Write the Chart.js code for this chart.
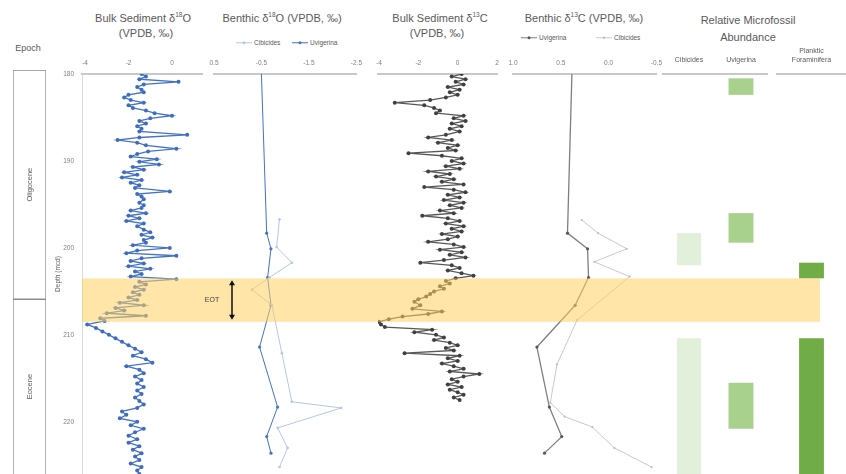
<!DOCTYPE html>
<html>
<head>
<meta charset="utf-8">
<script src="https://cdn.jsdelivr.net/npm/chart.js@4.4.0/dist/chart.umd.min.js"></script>
<style>
  body { margin: 0; background: #fff; font-family: 'Liberation Sans', Arial, sans-serif; }
  #wrap { position: relative; width: 846px; height: 474px; overflow: hidden; background: #fff; }
  #wrap canvas { position: absolute; top: 0; }
  .ttl { position: absolute; color: #595959; font-size: 11px; line-height: 1; white-space: nowrap; transform: translate(-50%, -50%); text-align: center; }
  .leg { position: absolute; color: #595959; font-size: 6.5px; line-height: 1; white-space: nowrap; transform: translateY(-50%); display: flex; align-items: center; gap: 2px; }
</style>
</head>
<body>
<div id="wrap">
  <div class="ttl" style="left:28px;top:48px;font-size:9px">Epoch</div>
  <div class="ttl" style="left:143px;top:18px">Bulk Sediment δ<sup style="font-size:6.5px">18</sup>O</div>
  <div class="ttl" style="left:146px;top:33px">(VPDB, ‰)</div>
  <div class="ttl" style="left:282px;top:18px">Benthic δ<sup style="font-size:6.5px">18</sup>O (VPDB, ‰)</div>
  <div class="ttl" style="left:440px;top:18px">Bulk Sediment δ<sup style="font-size:6.5px">13</sup>C</div>
  <div class="ttl" style="left:437px;top:33px">(VPDB, ‰)</div>
  <div class="ttl" style="left:584px;top:18px">Benthic δ<sup style="font-size:6.5px">13</sup>C (VPDB, ‰)</div>
  <div class="ttl" style="left:748px;top:20px">Relative Microfossil</div>
  <div class="ttl" style="left:748px;top:37px">Abundance</div>

  <div class="leg" style="left:236px;top:43px"><svg width="16" height="6"><line x1="0" y1="3" x2="16" y2="3" stroke="#b4c7e7" stroke-width="1"/><circle cx="8" cy="3" r="1.5" fill="#b4c7e7"/></svg><span>Cibicides</span></div>
  <div class="leg" style="left:292px;top:43px"><svg width="16" height="6"><line x1="0" y1="3" x2="16" y2="3" stroke="#4472c4" stroke-width="1"/><circle cx="8" cy="3" r="1.5" fill="#4472c4"/></svg><span>Uvigerina</span></div>
  <div class="leg" style="left:521px;top:38px"><svg width="16" height="6"><line x1="0" y1="3" x2="16" y2="3" stroke="#7f7f7f" stroke-width="1"/><circle cx="8" cy="3" r="1.5" fill="#595959"/></svg><span>Uvigerina</span></div>
  <div class="leg" style="left:596px;top:38px"><svg width="16" height="6"><line x1="0" y1="3" x2="16" y2="3" stroke="#c9c9c9" stroke-width="1"/><circle cx="8" cy="3" r="1.2" fill="#bfbfbf"/></svg><span>Cibicides</span></div>
</div>

<script>
// depth axis (mcd), top of plot = 180
const depthTicks = [180, 190, 200, 210, 220];
const eotTop = 203.5, eotBottom = 208.5;

// epoch boxes
const epochNames = ['Oligocene', 'Eocene'];
const epochRanges = [[179.54, 205.9], [205.9, 232]];

// bulk sediment d18O
const bulkO18Depth = [
  180.0,180.3,180.6,180.9,181.2,181.5,181.8,182.1,182.4,182.7,
  183.0,183.3,183.6,183.9,184.2,184.5,184.8,185.1,185.4,185.7,
  186.0,186.3,186.6,187.0,187.3,187.6,187.9,188.2,188.6,188.9,
  189.2,189.5,189.8,190.1,190.4,190.7,191.0,191.3,191.6,191.9,
  192.2,192.5,192.8,193.1,193.5,193.8,194.1,194.4,194.8,195.1,
  195.4,195.7,196.0,196.3,196.6,196.9,197.2,197.5,197.9,198.2,
  198.5,198.8,199.1,199.4,199.7,200.0,200.3,200.6,200.9,201.2,
  201.5,201.8,202.1,202.4,202.7,203.0,203.3,203.6,203.9,204.2,
  204.5,204.8,205.1,205.4,205.7,206.0,206.3,206.6,206.9,207.2,
  207.5,207.8,208.1,208.4,208.8,209.2,209.6,210.0,210.4,210.8,
  211.2,211.6,212.0,212.4,212.8,213.2,213.6,214.0,214.4,214.8,
  215.2,215.6,216.0,216.4,216.8,217.2,217.6,218.0,218.4,218.8,
  219.2,219.6,220.0,220.4,220.8,221.2,221.6,222.0,222.4,222.8,
  223.2,223.6,224.0,224.4,224.8,225.2,225.6,226.0
];
const bulkO18 = [
  -1.4,-1.2,-1.5,0.3,-1.3,-1.6,-1.4,-1.3,-2.0,-2.2,
  -1.9,-1.3,-2.0,-1.8,-1.2,-0.8,0.0,-1.0,-1.5,-1.2,
  -1.6,-1.4,-1.5,0.7,-1.5,-2.5,-1.6,-1.2,0.2,-1.1,
  -1.6,-1.9,-0.7,-1.5,-0.6,-1.8,-1.3,-2.2,-1.6,-2.3,
  -1.4,-1.9,-1.5,-1.7,-0.1,-1.6,-1.4,-1.3,-1.5,-1.3,
  -1.4,-1.9,-1.2,-2.0,-1.5,-2.1,-1.3,-1.6,-1.3,-1.0,
  -1.4,-0.9,-1.3,-1.2,-1.8,-0.1,-1.6,-2.1,0.2,-1.4,
  -1.9,-1.3,-2.0,-1.0,-1.7,-1.4,-1.9,0.2,-1.5,-1.2,
  -1.7,-1.3,-1.8,-1.5,-2.0,-1.6,-2.4,-1.3,-2.6,-2.2,
  -3.0,-1.2,-3.3,-3.1,-3.9,-3.5,-3.2,-2.9,-2.6,-2.3,
  -2.0,-1.7,-1.4,-1.8,-1.2,-0.9,-2.1,-1.5,-1.3,-1.7,
  -1.4,-1.6,-1.3,-1.6,-1.4,-1.7,-1.5,-1.3,-1.6,-2.3,
  -2.1,-2.4,-1.6,-1.9,-1.3,-1.7,-2.0,-1.6,-2.0,-1.5,
  -1.8,-1.4,-1.7,-1.5,-1.9,-1.4,-1.6,-1.5
];

// bulk sediment d13C
const bulkC13Depth = [
  180.0,180.3,180.6,180.9,181.2,181.5,181.8,182.1,182.4,182.7,
  183.0,183.3,183.6,183.9,184.2,184.5,184.8,185.1,185.4,185.7,
  186.0,186.3,186.6,187.0,187.3,187.6,187.9,188.2,188.5,188.8,
  189.1,189.4,189.7,190.0,190.3,190.6,190.9,191.2,191.5,191.8,
  192.1,192.4,192.7,193.0,193.3,193.6,193.9,194.2,194.5,194.8,
  195.1,195.4,195.7,196.0,196.3,196.6,196.9,197.2,197.5,197.8,
  198.1,198.4,198.7,199.0,199.3,199.6,199.9,200.2,200.5,200.8,
  201.1,201.4,201.7,202.0,202.3,202.6,202.9,203.2,203.5,203.8,
  204.1,204.4,204.7,205.0,205.3,205.6,205.9,206.2,206.6,207.0,
  207.3,207.6,207.9,208.2,208.5,208.8,209.1,209.4,209.7,210.0,
  210.3,210.6,210.9,211.2,211.5,211.8,212.1,212.4,212.7,213.0,
  213.3,213.6,213.9,214.2,214.5,214.8,215.1,215.4,215.7,216.0,
  216.3,216.6,216.9,217.2,217.5
];
const bulkC13 = [
  0.2,-0.3,0.4,-0.1,0.3,-0.5,0.1,-0.4,0.0,-0.6,
  -1.4,-3.2,-1.7,-1.2,-0.9,-1.1,0.3,-0.2,0.4,-0.3,
  0.2,-0.4,0.1,-0.6,-1.5,-0.3,-1.0,0.0,-0.5,-0.1,
  -2.5,-0.8,0.2,-0.3,0.3,-0.6,0.1,-1.5,-0.4,-1.1,
  -0.2,-0.8,0.3,-1.7,-0.2,0.4,-0.5,0.1,-0.7,0.3,
  -0.4,0.2,-0.9,-0.2,-1.8,-0.5,0.1,-0.6,0.3,-0.3,
  0.2,-0.8,0.0,-0.5,-1.5,-0.2,0.3,-0.9,0.2,-0.4,
  0.4,-0.7,-1.9,-0.3,0.1,-0.5,0.2,0.8,-0.1,-0.6,
  -0.4,-0.9,-0.7,-1.2,-1.4,-1.6,-2.0,-2.2,-1.9,-2.3,
  -0.8,-1.5,-2.8,-3.5,-4.0,-3.9,-3.7,-1.3,-2.2,-1.1,
  -0.7,-1.2,-0.4,0.0,-0.6,-0.2,-2.7,0.1,-0.5,0.0,
  -0.8,-0.2,0.3,-0.4,1.1,0.3,-0.3,0.0,-0.5,0.2,
  -0.4,0.0,0.3,-0.2,0.1
];

// benthic foraminifera
const uviDepth = [178.5, 198.3, 200.1, 203.4, 206.6, 211.4, 218.3, 221.7, 223.6];
const uviO18 = [-0.49, -0.61, -0.70, -0.63, -0.70, -0.46, -0.84, -0.61, -0.70];
const uviC13 = [0.38, 0.43, 0.22, 0.21, 0.35, 0.75, 0.62, 0.49, 0.67];
const cibO18Depth = [196.7, 199.9, 201.7, 203.4, 204.8, 206.6, 212.1, 217.7, 218.4, 220.7, 223.0, 225.2];
const cibO18 = [-0.88, -0.82, -1.14, -0.67, -0.30, -0.72, -0.93, -1.14, -2.18, -0.84, -1.05, -0.88];
const cibC13Depth = [196.8, 198.3, 200.1, 201.6, 203.3, 208.3, 213.4, 217.8, 219.4, 220.6, 223.0, 225.2];
const cibC13 = [0.28, 0.11, -0.19, 0.15, -0.22, 0.33, 0.54, 0.61, 0.46, 0.17, -0.06, -0.45];

// relative microfossil abundance (depth intervals where present)
const abundanceLabels = ['Cibicides', 'Uvigerina'];
const cibicidesRanges = [[198.3, 202.0], [210.4, 232]];
const uvigerinaRanges = [[180.5, 182.4], [196.0, 199.4], [215.5, 220.8]];
const plankticLabel = [['Planktic', 'Foraminifera']];
const plankticRanges = [[201.7, 203.5], [210.4, 232]];

Chart.defaults.font.family = "'Liberation Sans', Arial, sans-serif";
Chart.defaults.animation = false;
Chart.defaults.layout.autoPadding = false;

const AREA_TOP = 74;
const AXIS_H = 20;
const wrap = document.getElementById('wrap');

function addCanvas(left, width) {
    const c = document.createElement('canvas');
    c.width = width;
    c.height = 474;
    c.style.left = left + 'px';
    wrap.appendChild(c);
    return c;
}

// yellow EOT band, each chart fills its own slice of the page
const eotBand = {
    id: 'eotBand',
    afterDatasetsDraw(chart, args, opts) {
        const y = chart.scales.y;
        const y0 = y.getPixelForValue(eotTop);
        const y1 = y.getPixelForValue(eotBottom);
        const x0 = opts.from - opts.left;
        const x1 = opts.to - opts.left;
        const ctx = chart.ctx;
        ctx.save();
        ctx.fillStyle = 'rgba(255, 208, 96, 0.55)';
        ctx.fillRect(x0, y0, x1 - x0, y1 - y0);
        ctx.restore();
    }
};

// EOT arrow + label
const eotMarker = {
    id: 'eotMarker',
    afterDraw(chart, args, opts) {
        const ctx = chart.ctx;
        const y = chart.scales.y;
        const y0 = y.getPixelForValue(eotTop) + 2;
        const y1 = y.getPixelForValue(eotBottom) - 2;
        const x = opts.x - opts.left;
        ctx.save();
        ctx.strokeStyle = '#111';
        ctx.fillStyle = '#111';
        ctx.lineWidth = 1.5;
        ctx.beginPath();
        ctx.moveTo(x, y0 + 3);
        ctx.lineTo(x, y1 - 3);
        ctx.stroke();
        ctx.beginPath();
        ctx.moveTo(x, y0); ctx.lineTo(x - 3, y0 + 5); ctx.lineTo(x + 3, y0 + 5); ctx.closePath();
        ctx.moveTo(x, y1); ctx.lineTo(x - 3, y1 - 5); ctx.lineTo(x + 3, y1 - 5); ctx.closePath();
        ctx.fill();
        ctx.fillStyle = '#404040';
        ctx.font = "7px 'Liberation Sans', Arial, sans-serif";
        ctx.textAlign = 'center';
        ctx.textBaseline = 'middle';
        ctx.fillText('EOT', opts.textX - opts.left, (y0 + y1) / 2);
        ctx.restore();
    }
};

// rotated epoch names inside the boxes
const epochText = {
    id: 'epochText',
    afterDatasetsDraw(chart) {
        const ctx = chart.ctx;
        const area = chart.chartArea;
        ctx.save();
        ctx.fillStyle = '#595959';
        ctx.font = "7.5px 'Liberation Sans', Arial, sans-serif";
        ctx.textAlign = 'center';
        ctx.textBaseline = 'middle';
        chart.data.datasets.forEach((ds, i) => {
            const bar = chart.getDatasetMeta(i).data[0];
            const top = Math.max(Math.min(bar.y, bar.base), area.top);
            const bottom = Math.min(Math.max(bar.y, bar.base), area.bottom);
            ctx.save();
            ctx.translate(bar.x, (top + bottom) / 2);
            ctx.rotate(-Math.PI / 2);
            ctx.fillText(ds.label, 0, 0);
            ctx.restore();
        });
        ctx.restore();
    }
};

function fixTicks(vals) {
    return function(scale) {
        scale.ticks = vals.map(v => ({ value: v }));
    };
}

function topAxis(min, max, reverse, tickVals, digits) {
    return {
        type: 'linear',
        position: 'top',
        min: min,
        max: max,
        reverse: reverse,
        afterBuildTicks: fixTicks(tickVals),
        afterFit: s => { s.height = AXIS_H; },
        grid: { display: false, drawTicks: false },
        border: { display: true, color: '#c8c8c8', width: 2 },
        ticks: {
            color: '#808080',
            font: { size: 6.5 },
            padding: 7,
            maxRotation: 0,
            autoSkip: false,
            callback: v => Number(v).toFixed(digits)
        }
    };
}

function depthAxis(show) {
    const axis = {
        type: 'linear',
        position: 'left',
        reverse: true,
        min: 180,
        max: 226,
        display: show
    };
    if (show) {
        Object.assign(axis, {
            afterBuildTicks: fixTicks(depthTicks),
            // fixed width, and no extra room for the end labels so every panel shares the same depth scale
            afterFit: s => { s.width = 32; s.paddingTop = 0; s.paddingBottom = 0; },
            grid: { display: false, drawTicks: false },
            border: { display: true, color: '#d9d9d9', width: 1 },
            title: { display: true, text: 'Depth (mcd)', color: '#595959', font: { size: 6.5 }, padding: { top: 4, bottom: 0 } },
            ticks: { color: '#808080', font: { size: 6.5 }, padding: 8 }
        });
    }
    return axis;
}

function lineSet(label, depths, vals, color, width, radius, pointColor) {
    return {
        label: label,
        data: depths.map((d, i) => ({ x: vals[i], y: d })),
        showLine: true,
        borderColor: color,
        backgroundColor: pointColor,
        pointBackgroundColor: pointColor,
        pointBorderColor: pointColor,
        pointBorderWidth: 0,
        borderWidth: width,
        pointRadius: radius,
        tension: 0
    };
}

function rangeSets(label, ranges, color, idx, nCats, barPct) {
    return ranges.map(r => {
        const data = new Array(nCats).fill(null);
        data[idx] = r;
        return {
            label: label,
            data: data,
            backgroundColor: color,
            borderWidth: 0,
            grouped: false,
            barPercentage: barPct,
            categoryPercentage: 1
        };
    });
}

// panel = chart area in page px, band = slice of the EOT band this chart paints
function makeProfile(p) {
    const padL = p.depthAxis ? 0 : 12;
    const yW = p.depthAxis ? 32 : 0;
    const left = p.areaLeft - padL - yW;
    const width = p.areaRight - p.areaLeft + padL + yW + 12;
    const canvas = addCanvas(left, width);
    const plugins = [eotBand];
    if (p.marker) plugins.push(eotMarker);
    return new Chart(canvas, {
        type: 'scatter',
        data: { datasets: p.datasets },
        options: {
            responsive: false,
            layout: { padding: { top: AREA_TOP - AXIS_H, bottom: 0, left: padL, right: 12 } },
            scales: {
                x: topAxis(p.min, p.max, p.reverse, p.ticks, p.digits),
                y: depthAxis(!!p.depthAxis)
            },
            plugins: {
                legend: { display: false },
                tooltip: { enabled: false },
                eotBand: { from: p.band[0], to: p.band[1], left: left },
                eotMarker: p.marker ? Object.assign({ left: left }, p.marker) : {}
            }
        },
        plugins: plugins
    });
}

function makeBars(p) {
    const left = p.areaLeft - 12;
    const width = p.areaRight - p.areaLeft + 24;
    const axisH = p.axisH || AXIS_H;
    const canvas = addCanvas(left, width);
    return new Chart(canvas, {
        type: 'bar',
        data: { labels: p.labels, datasets: p.datasets },
        options: {
            responsive: false,
            layout: { padding: { top: AREA_TOP - axisH, bottom: 0, left: 12, right: 12 } },
            scales: {
                x: {
                    type: 'category',
                    position: 'top',
                    afterFit: s => { s.height = axisH; },
                    grid: { display: false, drawTicks: false },
                    border: { display: true, color: '#c8c8c8', width: 2 },
                    ticks: { color: '#595959', font: { size: 7 }, padding: 10, maxRotation: 0, autoSkip: false }
                },
                y: { type: 'linear', reverse: true, min: 180, max: 226, display: false }
            },
            plugins: {
                legend: { display: false },
                tooltip: { enabled: false },
                eotBand: { from: p.band[0], to: p.band[1], left: left }
            }
        },
        plugins: [eotBand]
    });
}

// epoch column
(function() {
    const canvas = addCanvas(0, 50);
    new Chart(canvas, {
        type: 'bar',
        data: {
            labels: ['Epoch'],
            datasets: epochNames.map((n, i) => ({
                label: n,
                data: [epochRanges[i]],
                backgroundColor: '#ffffff',
                borderColor: '#8c8c8c',
                borderWidth: 1,
                borderSkipped: false,
                grouped: false,
                barPercentage: 1,
                categoryPercentage: 1
            }))
        },
        options: {
            responsive: false,
            layout: { padding: { top: 70, bottom: 0, left: 13, right: 4 } },
            scales: {
                x: { display: false },
                y: { type: 'linear', reverse: true, min: 179.54, max: 226, display: false }
            },
            plugins: { legend: { display: false }, tooltip: { enabled: false } }
        },
        plugins: [epochText]
    });
})();

makeProfile({
    areaLeft: 82, areaRight: 202, depthAxis: true,
    min: -4.14, max: 1.38, reverse: false, ticks: [-4, -2, 0], digits: 0,
    band: [82, 208],
    datasets: [lineSet('Bulk δ18O', bulkO18Depth, bulkO18, '#4472c4', 1.3, 2, '#3f6cc0')]
});

makeProfile({
    areaLeft: 214, areaRight: 357,
    min: -2.5, max: 0.5, reverse: true, ticks: [0.5, -0.5, -1.5, -2.5], digits: 1,
    band: [208, 368],
    marker: { x: 232, textX: 212 },
    datasets: [
        lineSet('Cibicides', cibO18Depth, cibO18, '#b4c7e7', 1, 1.3, '#b4c7e7'),
        lineSet('Uvigerina', uviDepth, uviO18, '#4472c4', 1, 1.6, '#4472c4')
    ]
});

makeProfile({
    areaLeft: 378, areaRight: 497,
    min: -4.05, max: 2.0, reverse: false, ticks: [-4, -2, 0, 2], digits: 0,
    band: [368, 505],
    datasets: [lineSet('Bulk δ13C', bulkC13Depth, bulkC13, '#595959', 1.3, 2, '#404040')]
});

makeProfile({
    areaLeft: 513, areaRight: 657,
    min: -0.5, max: 1.0, reverse: true, ticks: [1.0, 0.5, 0.0, -0.5], digits: 1,
    band: [505, 660],
    datasets: [
        lineSet('Cibicides', cibC13Depth, cibC13, '#c9c9c9', 1, 1.1, '#bfbfbf'),
        lineSet('Uvigerina', uviDepth, uviC13, '#7f7f7f', 1.3, 1.6, '#595959')
    ]
});

makeBars({
    areaLeft: 663, areaRight: 767,
    labels: abundanceLabels,
    band: [660, 772],
    datasets: rangeSets('Cibicides', cibicidesRanges, '#e2efda', 0, 2, 0.46)
        .concat(rangeSets('Uvigerina', uvigerinaRanges, '#a9d18e', 1, 2, 0.48))
});

makeBars({
    areaLeft: 777, areaRight: 846, axisH: 34,
    labels: plankticLabel,
    band: [772, 820],
    datasets: rangeSets('Planktic Foraminifera', plankticRanges, '#70ad47', 0, 1, 0.36)
});
</script>
</body>
</html>
